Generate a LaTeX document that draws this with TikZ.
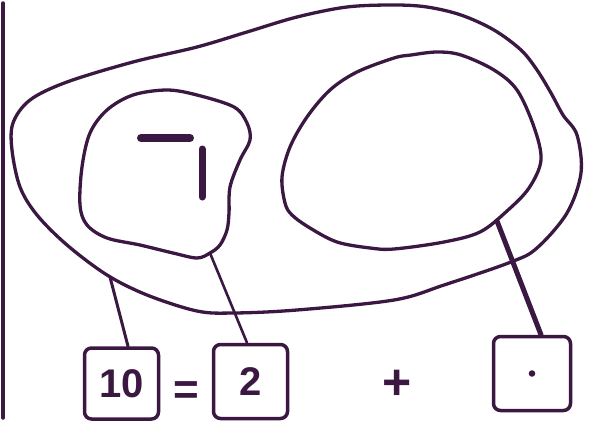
\documentclass[tikz,border=0pt]{standalone}
\usepackage{fontspec}
\setmainfont{Liberation Sans}
\definecolor{ink}{RGB}{58,24,66}
\begin{document}
\begin{tikzpicture}[x=1pt,y=-1pt,line join=round,line cap=round,
  blob/.style={draw=ink,line width=3.3pt},
  numbox/.style={draw=ink,line width=3.5pt,rounded corners=7pt,inner sep=0pt,text=ink},
  link/.style={draw=ink,line width=#1},
  sign/.style={text=ink,inner sep=0pt}]
\useasboundingbox (0,0) rectangle (590,429);
% left rule
\draw[draw=ink,line width=3.5pt] (3,3) -- (3,418);
% outer blob
\draw[blob] plot[smooth cycle,tension=0.55] coordinates {
 (13,123) (30,100) (67,82) (133,62) (197,47) (247,32) (297,17) (347,7) (394,5)
 (427,7) (461,15) (494,30) (521,50) (537,70) (551,93) (563,115) (577,135)
 (581,173) (567,213) (537,248) (511,262) (444,285) (394,300) (297,310)
 (234,313) (197,311) (147,295) (107,275) (67,245) (37,215) (20,187) (12,150)};
% left inner blob
\draw[blob] plot[smooth cycle,tension=0.55] coordinates {
 (197,95) (234,107) (247,123) (250,140) (240,160) (230,187) (229,213)
 (227,230) (220,245) (210,253) (197,258) (173,253) (140,245) (107,238) (87,225)
 (80,205) (82,167) (90,133) (107,110) (133,95) (167,90)};
% right inner blob
\draw[blob] plot[smooth cycle,tension=0.55] coordinates {
 (394,58) (411,55) (437,52) (461,55) (494,70) (517,90) (534,127) (541,160)
 (529,188) (507,211) (480,232) (444,242) (394,249) (370,248) (337,242)
 (310,228) (292,215) (285,203) (282,177) (290,147) (307,117) (330,90) (357,72)};
% symbol in left blob
\draw[draw=ink,line width=8pt,line cap=round] (141,138) -- (190,138);
\draw[draw=ink,line width=7pt,line cap=round] (202,149) -- (202,197);
% attachment points
\coordinate (c10) at (110,277);
\coordinate (c2) at (210,253);
\coordinate (cdot) at (497,221);
% boxes
\node[numbox,minimum width=74pt,minimum height=71pt] (b10) at (121.5,383.5)
  {\fontsize{40}{40}\selectfont\bfseries 10};
\node[numbox,minimum width=74pt,minimum height=74pt] (b2) at (250.5,381.5)
  {\fontsize{40}{40}\selectfont\bfseries 2};
\node[numbox,minimum width=77pt,minimum height=74pt] (bdot) at (532,373.5) {};
\fill[ink] (bdot.center) circle (3.3pt);
% signs
\node[sign] (eq) at (186,393) {\fontsize{44}{44}\selectfont\bfseries =};
\node[sign] (plus) at (397,385) {\fontsize{50}{50}\selectfont\bfseries +};
% connectors
\draw[link=3pt] (c10) -- ([xshift=6.5pt]b10.north);
\draw[link=2.6pt] (c2) -- ([xshift=-3.5pt]b2.north);
\draw[link=5pt] (cdot) -- ([xshift=9pt]bdot.north);
\end{tikzpicture}
\end{document}
